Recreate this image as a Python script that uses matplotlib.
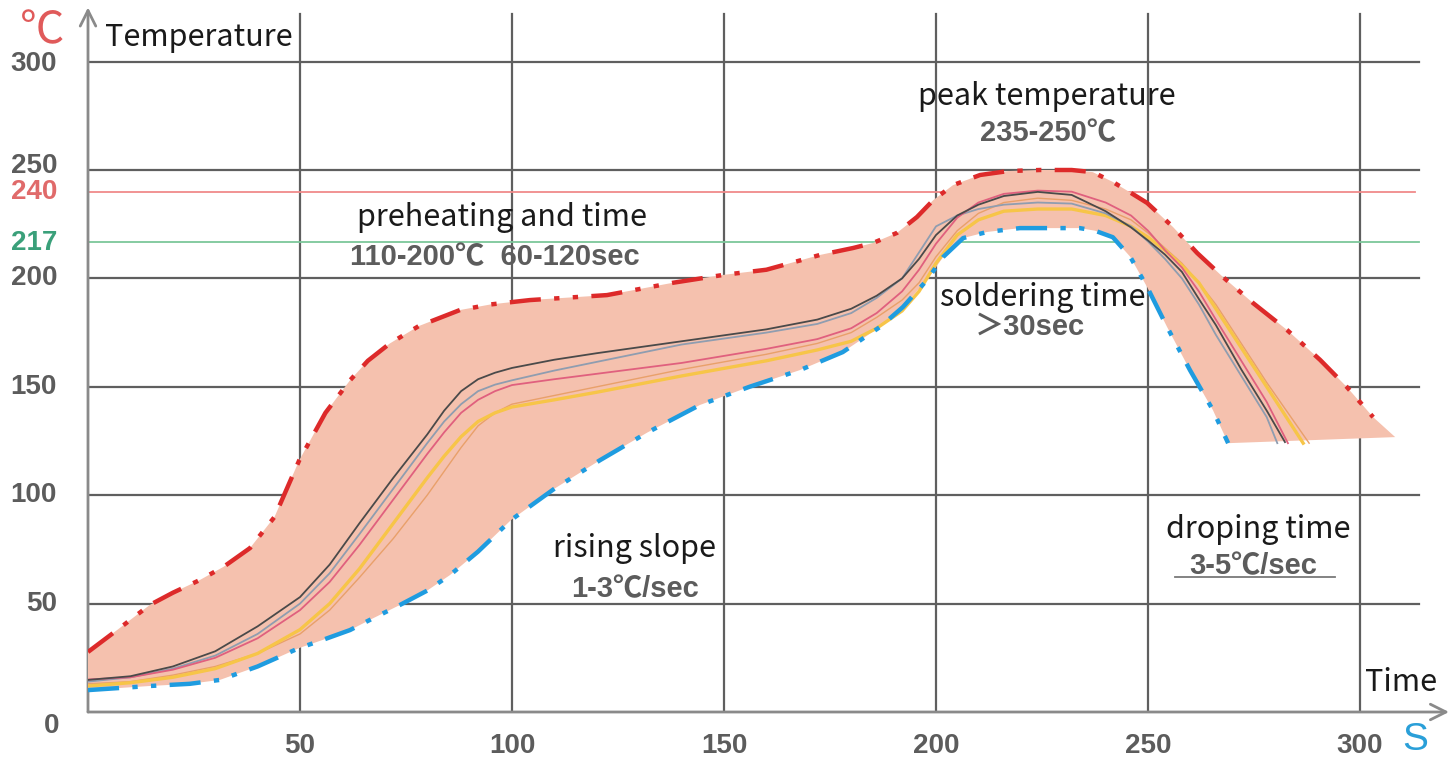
import matplotlib
matplotlib.use("Agg")
from matplotlib import pyplot as plt

# reflow process window (time s, temp C)
upper_t = [0, 7, 14.6, 20, 26.4, 32, 38.2, 44, 49.8, 56, 61.8, 66, 71.2, 78, 87.7, 95, 104.2,
           122.4, 138, 149.8, 160, 172.6, 180.4, 185.1, 190.8, 195.5, 199.3, 204, 210.4, 217,
           224.5, 232, 237, 241.7, 245.5, 249.8, 255.9, 261.6, 267.7, 274.8, 282.8, 290.6,
           296.9, 303.1]
upper_y = [27.7, 38, 49.4, 55, 60.9, 67, 75.6, 90, 116, 138, 153, 162, 170, 178, 185.4, 188,
           190, 192.3, 198, 201.6, 204, 210.8, 214, 216.3, 221, 228.3, 236, 243, 247.7, 249.5,
           250, 250, 249, 244.5, 240, 234.8, 223.7, 211.7, 200.6, 188.6, 176.2, 162.4, 149.9,
           136]
lower_t = [0, 14.6, 24, 31.1, 40, 49.8, 55, 61.8, 67, 73.6, 80, 85.4, 92, 99.8, 110, 120.8, 132,
           144.3, 156, 167.9, 178, 186.8, 192.2, 197.9, 201.7, 206.4, 212, 219.8, 233.9, 237.5,
           241.7, 245.8, 249.8, 254.5, 259.9, 265.3, 268.9]
lower_y = [10.1, 12, 13, 14.8, 21, 29.5, 33, 37.8, 43, 49.4, 56, 63.2, 74, 88.6, 103, 116.2, 129,
           141.6, 150, 157.7, 166, 177.6, 186.8, 199.3, 209.9, 218.6, 221.4, 223.2, 223.2, 222,
           219, 210, 196, 177.6, 157.7, 139.3, 124]
fill_corner = (308.3, 126.8)

# measured oven profiles
profile_t = [0, 10, 20, 30, 40, 50, 57, 64, 72, 80, 84, 88, 92, 96, 100, 110, 120, 140, 160, 172,
             180, 186, 192, 196, 200, 205, 210, 216, 224, 232, 240, 246, 250, 254, 258, 262, 266,
             272, 278]
profile_black = [14.8, 16.5, 21, 28, 39.5, 53, 68, 87, 108, 128, 139, 148, 153.5, 156.5, 158.7,
                 162.5, 165.5, 171, 176.5, 181, 186, 192, 200, 209, 220, 229, 234, 238, 239.9,
                 238.5, 231, 223.5, 217.5, 211, 203, 190.5, 178.5, 158, 139]
profile_grey = [14, 16, 20, 26, 36, 50, 64, 82, 103, 124, 134, 142, 148, 151, 153, 157.5, 161.5,
                169.5, 175, 179, 184, 191, 200, 212, 224, 229, 232, 234, 235, 234.5, 230, 224,
                217, 209, 200, 188, 174, 155, 136]
profile_pink = [15, 16, 19.5, 25, 34, 47, 60, 77, 98, 119, 129, 138, 144, 148, 150.8, 153.5, 156,
                161, 167.5, 172, 177, 184, 194, 204, 216, 228, 235, 239, 240.5, 240, 235, 229,
                222, 213, 205, 194, 181, 162, 143]
profile_yellow = [12, 13.5, 16, 20, 27, 38, 50, 66, 87, 108, 118, 127, 134, 138, 140.7, 144,
                  147.5, 155, 162, 167, 171, 177, 185, 194, 207, 220, 227, 231, 232, 232, 229,
                  224, 219, 213, 206, 198, 186, 168, 150]
profile_orange = [13, 14, 17, 21, 27, 36, 47, 62, 80, 100, 111, 122, 132, 138, 142, 146, 150,
                  158, 165, 170, 175, 182, 190, 198, 210, 222, 230, 235, 237, 236, 232, 227, 221,
                  214, 207, 198, 188, 170, 152]
profile_end = {"black": (282.3, 124.5), "grey": (280.5, 124), "pink": (283, 124),
               "yellow": (286.6, 124), "orange": (288, 124)}

x_ticks = [50, 100, 150, 200, 250, 300]
y_ticks = [50, 100, 150, 200, 250, 300]
limit_red = 240
limit_green = 217

fig = plt.figure(figsize=(14.54, 7.63), dpi=100)
ax = fig.add_axes([88 / 1454, 51 / 763, 1366 / 1454, 705 / 763])
ax.set_xlim(0, 1366 / 4.24)
ax.set_ylim(0, 705 / 2.168)
ax.axis("off")

# grid
for y in y_ticks:
    ax.plot([0, 314], [y, y], color="#5f5f5f", lw=1.6, zorder=1)
for x in x_ticks:
    ax.plot([x, x], [0, 322], color="#5f5f5f", lw=1.6, zorder=1)
ax.plot([0, 313], [limit_red, limit_red], color="#f08a8a", lw=1.3, zorder=1)
ax.plot([0, 314], [limit_green, limit_green], color="#7cc79a", lw=1.3, zorder=1)

# axes with arrows
arrow = dict(arrowstyle="->", color="#8a8a8a", lw=2, mutation_scale=28, shrinkA=0, shrinkB=0)
ax.annotate("", xy=(321, 0), xytext=(0, 0), arrowprops=arrow, zorder=2)
ax.annotate("", xy=(0, 325), xytext=(0, 0), arrowprops=arrow, zorder=2)

# window
poly_t = upper_t + [fill_corner[0]] + lower_t[::-1]
poly_y = upper_y + [fill_corner[1]] + lower_y[::-1]
ax.fill(poly_t, poly_y, color="#f5c1ae", lw=0, zorder=2)
dashdot2 = (0, (7, 3, 1.2, 3, 1.2, 3))
ax.plot(upper_t, upper_y, color="#dd2a2a", lw=3.2, ls=dashdot2, zorder=4)
ax.plot(lower_t, lower_y, color="#1f9ce0", lw=3.2, ls=dashdot2, zorder=4)

profiles = [("orange", profile_orange, "#e9a06a", 1.0),
            ("yellow", profile_yellow, "#f7c548", 2.4),
            ("grey", profile_grey, "#8f9db0", 1.3),
            ("pink", profile_pink, "#e0607e", 1.3),
            ("black", profile_black, "#4a4a4a", 1.3)]
for name, vals, col, lw in profiles:
    ex, ey = profile_end[name]
    ax.plot(profile_t + [ex], vals + [ey], color=col, lw=lw, zorder=3)

# tick labels
num = dict(family="Liberation Sans", fontweight="bold", fontsize=20, color="#5c5c5c")
for y in y_ticks:
    dy = {250: 2, 300: -1}.get(y, 0)
    ax.text(-7.3, y + dy, str(y), ha="right", va="center", **num)
ax.text(-7.3, limit_red, "240", ha="right", va="center", **{**num, "color": "#e06a6a"})
ax.text(-7.3, limit_green - 0.5, "217", ha="right", va="center", **{**num, "color": "#3aa07a"})
ax.text(-8.5, -6.5, "0", ha="center", va="center", **num)
for x in x_ticks:
    ax.text(x, -15.7, str(x), ha="center", va="center", **num)

txt = dict(family=["Noto Sans CJK SC", "DejaVu Sans"], fontsize=22, color="#1a1a1a")
sub = dict(family=["Liberation Sans", "Noto Sans CJK SC", "DejaVu Sans"], fontweight="bold",
           fontsize=21, color="#5c5c5c")

ax.text(-10.8, 314.6, "℃", ha="center", va="center", family=["Noto Sans CJK SC", "DejaVu Sans"],
        fontsize=32, color="#e05a5a")
ax.text(4, 311.3, "Temperature", ha="left", va="center", **txt)
ax.text(309.7, 13.4, "Time", ha="center", va="center", **txt)
ax.text(313, -12.9, "S", ha="center", va="center", family="Liberation Sans", fontsize=28,
        color="#2a9fd8")

ax.text(226.2, 283.7, "peak temperature", ha="center", va="center", **txt)
ax.text(226.4, 267, "235-250℃", ha="center", va="center", **sub)
ax.text(97.6, 227.9, "preheating and time", ha="center", va="center", **txt)
ax.text(96, 209.9, "110-200℃  60-120sec", ha="center", va="center", **sub)
ax.text(225.2, 191.4, "soldering time", ha="center", va="center", **txt)
ax.text(222.2, 177.6, "＞30sec", ha="center", va="center", **sub)
ax.text(129, 75.2, "rising slope", ha="center", va="center", **txt)
ax.text(129, 56.7, "1-3℃/sec", ha="center", va="center", **sub)
ax.text(276, 84, "droping time", ha="center", va="center", **txt)
ax.text(274.8, 67.3, "3-5℃/sec", ha="center", va="center", **sub)
ax.plot([256.4, 294], [62.2, 62.2], color="#7a7a7a", lw=1.3)

fig.savefig("out.png", dpi=100)
